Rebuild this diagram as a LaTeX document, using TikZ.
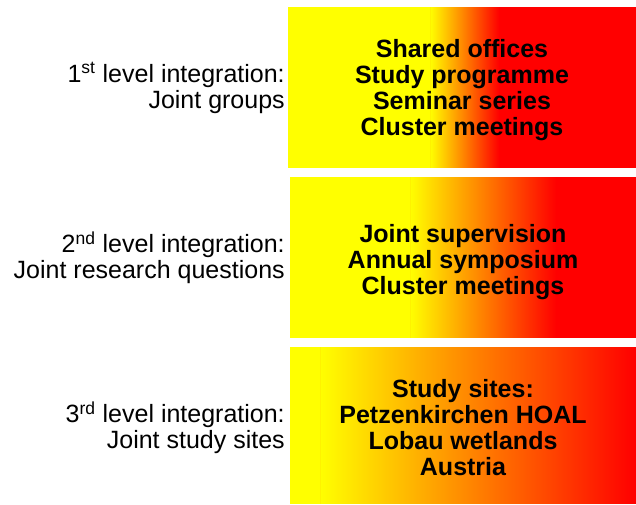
\documentclass[tikz,border=0pt]{standalone}
\usepackage{fontspec}
\setmainfont{Liberation Sans}
\newlength{\du}
\setlength{\du}{0.75pt}
\tikzset{
  leveltext/.style={anchor=east, align=right, inner sep=0pt, font=\fontsize{18.75}{19.5}\selectfont},
  boxtext/.style={align=center, inner sep=0pt, font=\bfseries\fontsize{18.75}{19.5}\selectfont}
}
\begin{document}
\begin{tikzpicture}
\useasboundingbox (0\du,0\du) rectangle (636\du,504\du);
\definecolor{dialinecolor}{rgb}{1.000000, 1.000000, 0.000000}
\pgfsetfillcolor{dialinecolor}
% first level
\fill (288\du,497\du)--(288\du,336\du)--(431\du,336\du)--(431\du,497\du)--cycle;
\foreach \i in {0,...,69}{
  \pgfmathsetmacro\p{\i/69*100}
  \fill[red!\p!yellow] ({(430+\i)*\du},497\du) rectangle ({(431.5+\i)*\du},336\du);
}
\fill[red] (499\du,497\du)--(499\du,336\du)--(636\du,336\du)--(636\du,497\du)--cycle;
\node[boxtext] (groups) at (462\du,414\du){Shared offices\\Study programme\\Seminar series\\Cluster meetings};
\node[leveltext] (level1) at (285\du,416\du){1\textsuperscript{st} level integration:\\Joint groups};
% second level
\fill (290\du,327\du)--(290\du,166\du)--(411\du,166\du)--(411\du,327\du)--cycle;
\foreach \i in {0,...,146}{
  \pgfmathsetmacro\p{\i/146*100}
  \fill[red!\p!yellow] ({(410+\i)*\du},327\du) rectangle ({(411.5+\i)*\du},166\du);
}
\fill[red] (556\du,327\du)--(556\du,166\du)--(636\du,166\du)--(636\du,327\du)--cycle;
\node[boxtext] (questions) at (463\du,242\du){Joint supervision\\Annual symposium\\Cluster meetings};
\node[leveltext] (level2) at (285\du,246\du){2\textsuperscript{nd} level integration:\\Joint research questions};
% third level
\fill (290\du,157\du)--(290\du,0\du)--(321\du,0\du)--(321\du,157\du)--cycle;
\foreach \i in {0,...,315}{
  \pgfmathsetmacro\p{\i/315*100}
  \fill[red!\p!yellow] ({(320+\i)*\du},157\du) rectangle ({(321.5+\i)*\du},0\du);
}
\node[boxtext] (sites) at (463\du,76\du){Study sites:\\Petzenkirchen HOAL\\Lobau wetlands\\Austria};
\node[leveltext] (level3) at (285\du,76\du){3\textsuperscript{rd} level integration:\\Joint study sites};
\end{tikzpicture}
\end{document}
